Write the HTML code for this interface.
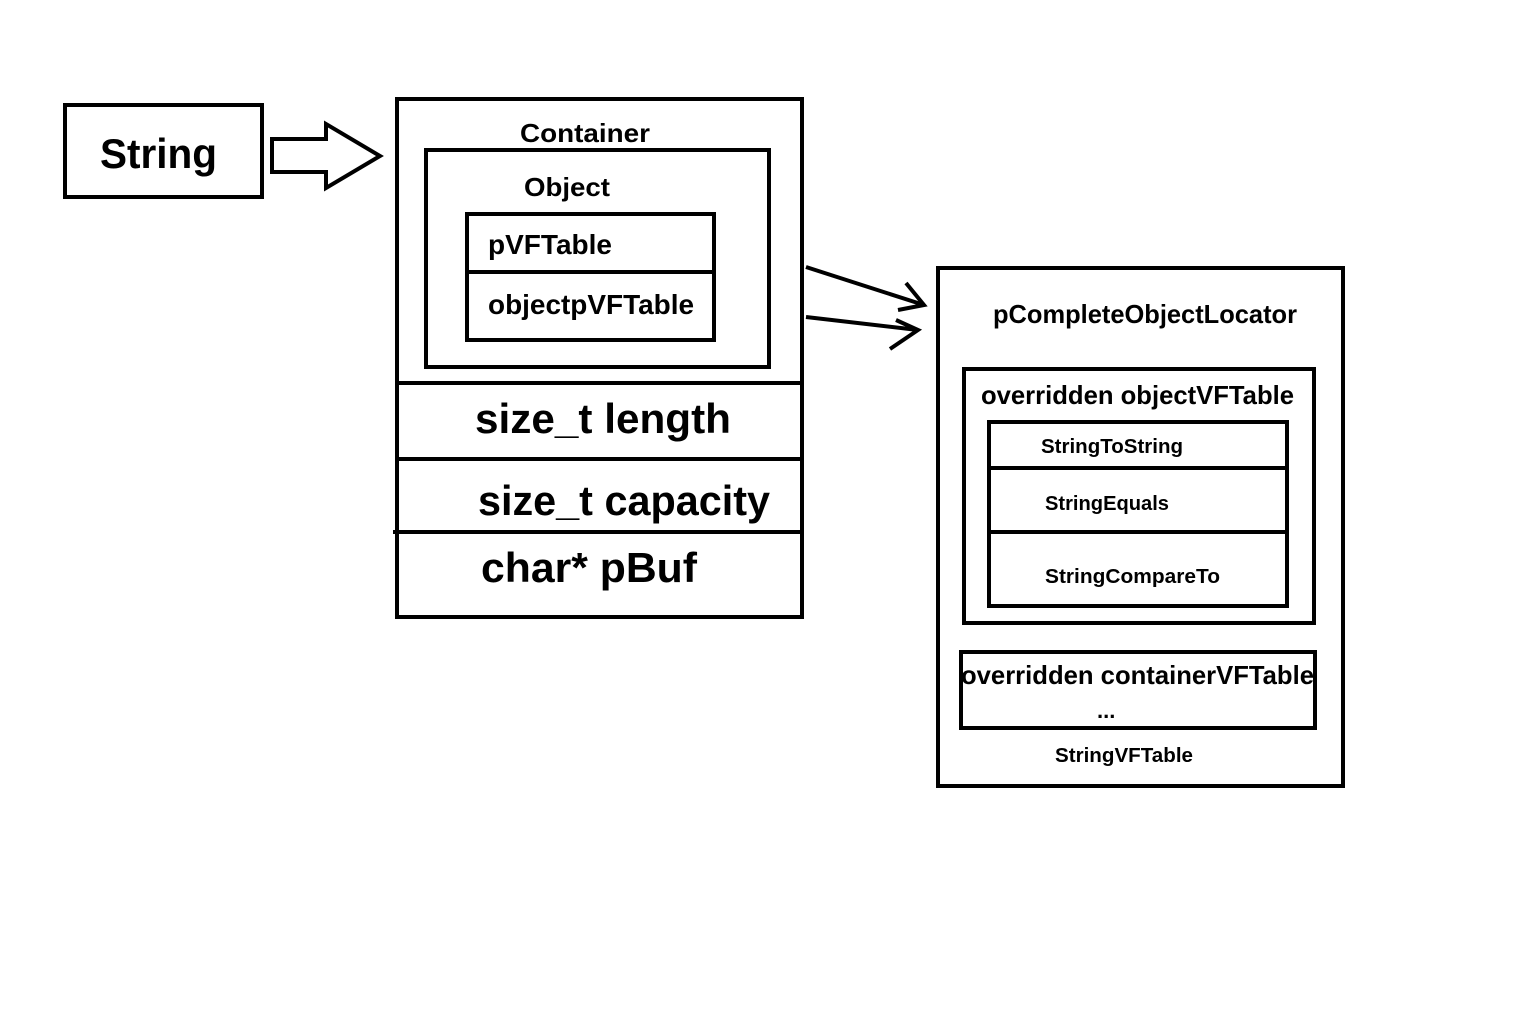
<!DOCTYPE html>
<html><head><meta charset="utf-8"><style>
html,body{margin:0;padding:0;background:#fff;}
svg{display:block;}
text{font-family:"Liberation Sans",sans-serif;font-weight:bold;fill:#000;}
</style></head><body>
<svg width="1520" height="1020" viewBox="0 0 1520 1020" xmlns="http://www.w3.org/2000/svg">
<g fill="none" stroke="#000" stroke-width="4">
<rect x="65" y="105" width="197" height="92"/>
<polygon points="272,139 326,139 326,124 380,156 326,188 326,172 272,172"/>
<rect x="397" y="99" width="405" height="518"/>
<line x1="397" y1="383" x2="804" y2="383"/>
<line x1="397" y1="459" x2="802" y2="459"/>
<line x1="393" y1="532" x2="802" y2="532"/>
<rect x="426" y="150" width="343" height="217"/>
<rect x="467" y="214" width="247" height="126"/>
<line x1="467" y1="272" x2="714" y2="272"/>
<line x1="806" y1="267" x2="924" y2="305"/>
<polyline points="906,283 924,305 898,310"/>
<line x1="806" y1="317" x2="918" y2="330"/>
<polyline points="896,320 918,330 890,349"/>
<rect x="938" y="268" width="405" height="518"/>
<rect x="964" y="369" width="350" height="254"/>
<rect x="989" y="422" width="298" height="184"/>
<line x1="989" y1="468" x2="1287" y2="468"/>
<line x1="989" y1="532" x2="1287" y2="532"/>
<rect x="961" y="652" width="354" height="76"/>
</g>
<text x="100" y="168" font-size="42" textLength="117" lengthAdjust="spacingAndGlyphs">String</text>
<text x="520" y="142" font-size="26" textLength="130" lengthAdjust="spacingAndGlyphs">Container</text>
<text x="524" y="196" font-size="26" textLength="86" lengthAdjust="spacingAndGlyphs">Object</text>
<text x="488" y="254" font-size="28" textLength="124" lengthAdjust="spacingAndGlyphs">pVFTable</text>
<text x="488" y="314" font-size="28" textLength="206" lengthAdjust="spacingAndGlyphs">objectpVFTable</text>
<text x="475" y="433" font-size="42" textLength="256" lengthAdjust="spacingAndGlyphs">size_t length</text>
<text x="478" y="515" font-size="42" textLength="292" lengthAdjust="spacingAndGlyphs">size_t capacity</text>
<text x="481" y="582" font-size="42" textLength="216" lengthAdjust="spacingAndGlyphs">char* pBuf</text>
<text x="993" y="323" font-size="26" textLength="304" lengthAdjust="spacingAndGlyphs">pCompleteObjectLocator</text>
<text x="981" y="404" font-size="26" textLength="313" lengthAdjust="spacingAndGlyphs">overridden objectVFTable</text>
<text x="1041" y="453" font-size="20" textLength="142" lengthAdjust="spacingAndGlyphs">StringToString</text>
<text x="1045" y="510" font-size="20" textLength="124" lengthAdjust="spacingAndGlyphs">StringEquals</text>
<text x="1045" y="583" font-size="20" textLength="175" lengthAdjust="spacingAndGlyphs">StringCompareTo</text>
<text x="961" y="684" font-size="26" textLength="353" lengthAdjust="spacingAndGlyphs">overridden containerVFTable</text>
<text x="1097" y="718" font-size="22">...</text>
<text x="1055" y="762" font-size="20" textLength="138" lengthAdjust="spacingAndGlyphs">StringVFTable</text>
</svg>
</body></html>
